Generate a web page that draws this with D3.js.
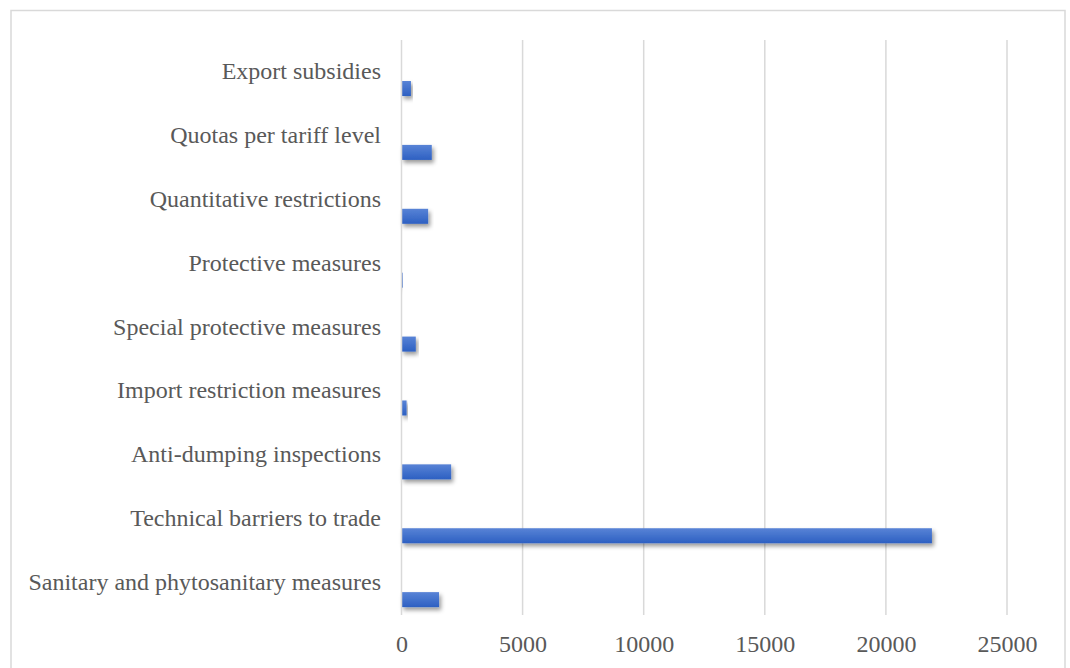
<!DOCTYPE html>
<html>
<head>
<meta charset="utf-8">
<script src="https://cdn.jsdelivr.net/npm/d3@7"></script>
<style>
  html, body { margin: 0; padding: 0; background: #fff; }
  svg { display: block; }
</style>
</head>
<body>
<svg id="chart" width="1070" height="668"></svg>
<script>
const categories = [
  "Export subsidies",
  "Quotas per tariff level",
  "Quantitative restrictions",
  "Protective measures",
  "Special protective measures",
  "Import restriction measures",
  "Anti-dumping inspections",
  "Technical barriers to trade",
  "Sanitary and phytosanitary measures"
];
const values = [390, 1250, 1100, 50, 590, 210, 2050, 21900, 1550];
const tickValues = [0, 5000, 10000, 15000, 20000, 25000];

const svg = d3.select("#chart");
const defs = svg.append("defs");
const grad = defs.append("linearGradient").attr("id", "barGrad")
  .attr("x1", 0).attr("y1", 0).attr("x2", 0).attr("y2", 1);
grad.append("stop").attr("offset", "0%").attr("stop-color", "#5883d6");
grad.append("stop").attr("offset", "100%").attr("stop-color", "#2d60c2");
const filt = defs.append("filter").attr("id", "shadow")
  .attr("x", "-10%").attr("y", "-50%").attr("width", "130%").attr("height", "250%");
filt.append("feDropShadow").attr("dx", 2).attr("dy", 3).attr("stdDeviation", 2)
  .attr("flood-color", "#000").attr("flood-opacity", 0.4);

// chart border
svg.append("rect").attr("x", 11).attr("y", 10.5).attr("width", 1054).attr("height", 700)
  .attr("fill", "none").attr("stroke", "#d9d9d9").attr("stroke-width", 1.5);

const plotTop = 40, plotBottom = 615;
const x = d3.scaleLinear().domain([0, 25000]).range([401.5, 1007]);
const y = d3.scaleBand().domain(categories).range([plotTop, plotBottom]).paddingInner(0).paddingOuter(0);

// gridlines
svg.append("g").selectAll("line").data(tickValues.slice(1)).join("line")
  .attr("x1", d => x(d)).attr("x2", d => x(d))
  .attr("y1", plotTop).attr("y2", plotBottom)
  .attr("stroke", "#d9d9d9").attr("stroke-width", 1.5);

// bars
svg.append("g").selectAll("rect").data(values).join("rect")
  .attr("x", x(0))
  .attr("y", (d, i) => y(categories[i]) + y.bandwidth() * 0.642)
  .attr("width", d => x(d) - x(0))
  .attr("height", y.bandwidth() * 0.235)
  .attr("fill", "url(#barGrad)")
  .attr("filter", "url(#shadow)");

// vertical axis line
svg.append("line").attr("x1", x(0)).attr("x2", x(0))
  .attr("y1", plotTop).attr("y2", plotBottom)
  .attr("stroke", "#d9d9d9").attr("stroke-width", 1.5);

// category labels
svg.append("g").selectAll("text").data(categories).join("text")
  .attr("x", 381)
  .attr("y", d => y(d) + y.bandwidth() / 2 + 7)
  .attr("text-anchor", "end")
  .attr("font-family", "'Liberation Serif', 'Times New Roman', serif")
  .attr("font-size", 24)
  .attr("fill", "#595959")
  .text(d => d);

// x axis tick labels
const xAxis = d3.axisBottom(x).tickValues(tickValues).tickSize(0).tickPadding(0).tickFormat(d3.format("d"));
const gx = svg.append("g").attr("transform", "translate(0,652)").call(xAxis);
gx.select(".domain").remove();
gx.selectAll("text")
  .attr("dy", 0).attr("y", 0)
  .attr("font-family", "'Liberation Serif', 'Times New Roman', serif")
  .attr("font-size", 24)
  .attr("fill", "#595959");
</script>
</body>
</html>
